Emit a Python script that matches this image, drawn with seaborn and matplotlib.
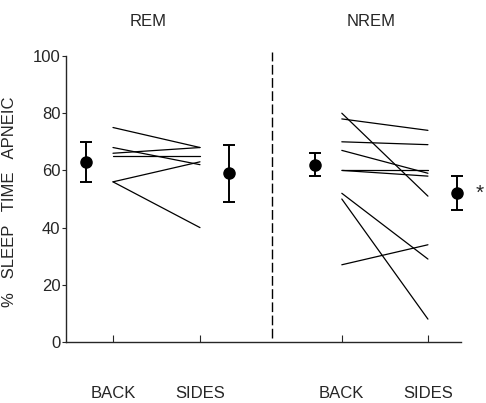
import numpy as np
import pandas as pd
import matplotlib
matplotlib.use("Agg")
import matplotlib.pyplot as plt
import seaborn as sns

# ---- data ----
sleep_stages = ["REM", "NREM"]
positions = ["BACK", "SIDES"]

rem_back = [75, 68, 66, 65, 56, 56]
rem_sides = [68, 62, 68, 65, 63, 40]
nrem_back = [80, 78, 70, 67, 60, 60, 52, 50, 27]
nrem_sides = [51, 74, 69, 59, 60, 58, 29, 8, 34]

mean_back = [63, 62]
sem_back = [7, 4]
mean_sides = [59, 52]
sem_sides = [10, 6]

y_ticks = [0, 20, 40, 60, 80, 100]

# ---- build table ----
xpos = {"REM": (1.0, 2.0), "NREM": (3.63, 4.62)}
rows = []
for stage, back, sides in [("REM", rem_back, rem_sides), ("NREM", nrem_back, nrem_sides)]:
    for i, (b, s) in enumerate(zip(back, sides)):
        uid = f"{stage}{i}"
        rows.append(dict(unit=uid, stage=stage, x=xpos[stage][0], y=b))
        rows.append(dict(unit=uid, stage=stage, x=xpos[stage][1], y=s))
df = pd.DataFrame(rows)

sns.set_style("ticks")
plt.rcParams["font.family"] = ["Liberation Sans", "DejaVu Sans"]

fig = plt.figure(figsize=(4.86, 4.03), dpi=100)
ax = fig.add_axes([66 / 486, 1 - 342 / 403, (461 - 66) / 486, (342 - 56) / 403])

sns.lineplot(data=df, x="x", y="y", units="unit", estimator=None,
             color="black", lw=0.9, ax=ax, legend=False)

mean_off = (-0.31, 0.33)
for k, stage in enumerate(sleep_stages):
    bx, sx = xpos[stage]
    ax.errorbar([bx + mean_off[0]], [mean_back[k]], yerr=[sem_back[k]], fmt="o",
                color="black", ms=8, elinewidth=1.4, capsize=4.5, capthick=1.4, clip_on=False)
    ax.errorbar([sx + mean_off[1]], [mean_sides[k]], yerr=[sem_sides[k]], fmt="o",
                color="black", ms=8, elinewidth=1.4, capsize=4.5, capthick=1.4, clip_on=False)

ax.plot([2.83, 2.83], [1.5, 101.5], ls=(0, (7, 2.5)), color="black", lw=1.0, clip_on=False)

ax.text(5.22, 52, "*", fontsize=15, ha="center", va="center", clip_on=False)

ax.set_xlim(0.46, 5.0)
ax.set_ylim(0, 100)
ax.set_yticks(y_ticks)
ax.set_yticklabels([str(t) for t in y_ticks], fontsize=12)
ax.set_xticks([xpos["REM"][0], xpos["REM"][1], xpos["NREM"][0], xpos["NREM"][1]])
ax.set_xticklabels(positions * 2, fontsize=12)
ax.tick_params(axis="x", direction="in", length=5, pad=32)
ax.tick_params(axis="y", direction="out", length=3, pad=1)
ax.set_xlabel("")
ax.set_ylabel("%   SLEEP   TIME   APNEIC", fontsize=12)
ax.yaxis.set_label_coords(-0.125, 0.49)
sns.despine(ax=ax)
for s in ("left", "bottom"):
    ax.spines[s].set_linewidth(1.0)

fig.text(148 / 486, 1 - 21 / 403, "REM", ha="center", va="center", fontsize=12)
fig.text(371 / 486, 1 - 21 / 403, "NREM", ha="center", va="center", fontsize=12)

fig.savefig("out.png", dpi=100)
